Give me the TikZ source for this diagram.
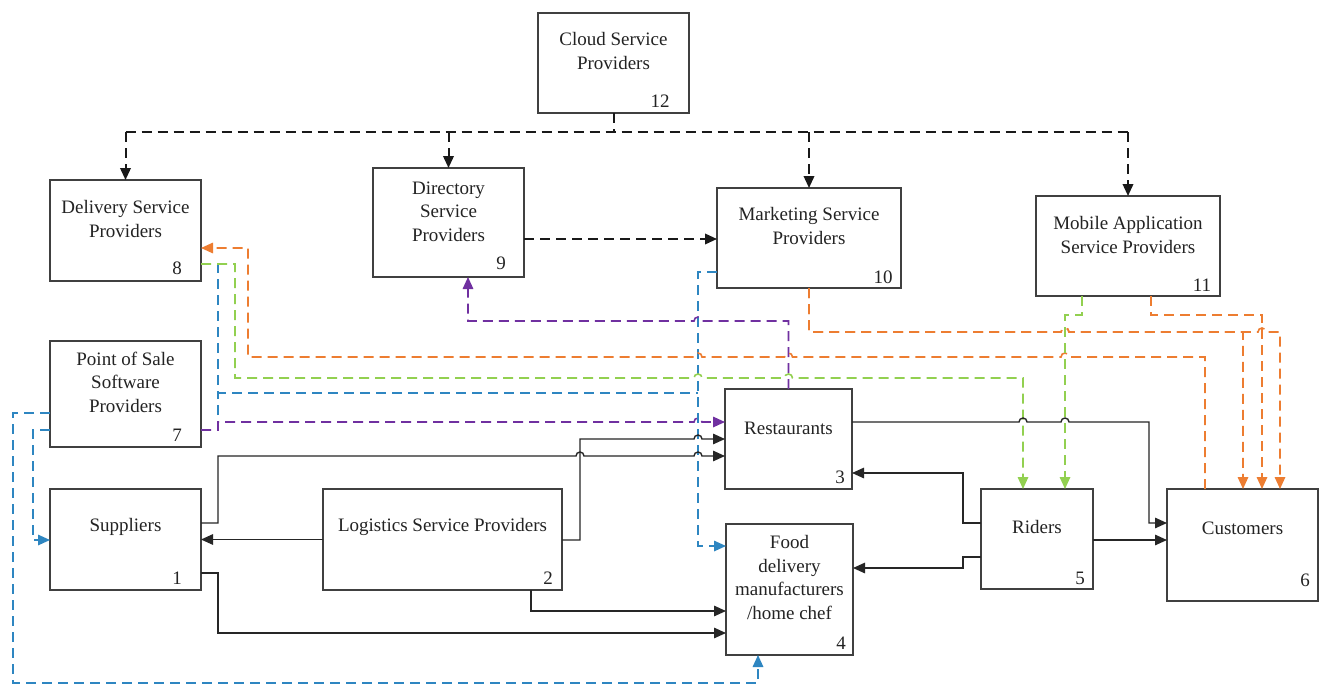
\documentclass[tikz,border=0pt]{standalone}
\usepackage{fontspec}
\setmainfont{Liberation Serif}
\usetikzlibrary{arrows.meta}

\definecolor{boxline}{RGB}{64,64,64}
\definecolor{txt}{RGB}{35,35,35}
\definecolor{ora}{RGB}{237,125,49}
\definecolor{grn}{RGB}{146,208,80}
\definecolor{blu}{RGB}{46,134,193}
\definecolor{pur}{RGB}{112,48,160}

\begin{document}
\begin{tikzpicture}[x=1pt,y=-1pt,
  actor/.style={draw=boxline,line width=1.4pt,rectangle,inner sep=0pt,outer sep=0pt,anchor=north west},
  lbl/.style={font=\fontsize{19}{23.5}\selectfont,align=center,text=txt,inner sep=0pt},
  num/.style={font=\fontsize{19}{23.5}\selectfont,text=txt,inner sep=0pt},
  flow/.style={draw=black!85,line width=1.4pt,-{Triangle[length=12pt,width=10.5pt]}},
  cdash/.style={draw=black!90,line width=2pt,dash pattern=on 10pt off 6pt},
  ctip/.style={-{Triangle[length=12pt,width=10.5pt]}},
  dl/.style={line width=1.6pt,dash pattern=on 10pt off 6pt}]

\fill[white] (0,0) rectangle (1325,688);
\useasboundingbox (0,0) rectangle (1325,688);

% ---------- boxes ----------
\node[actor,minimum width=151pt,minimum height=100pt] (c12) at (538,13) {};
\node[actor,minimum width=151pt,minimum height=101pt] (d8)  at (50,180) {};
\node[actor,minimum width=151pt,minimum height=109pt] (d9)  at (373,168) {};
\node[actor,minimum width=184pt,minimum height=100pt] (m10) at (717,188) {};
\node[actor,minimum width=184pt,minimum height=100pt] (a11) at (1036,196) {};
\node[actor,minimum width=151pt,minimum height=106pt] (p7)  at (50,341) {};
\node[actor,minimum width=151pt,minimum height=101pt] (s1)  at (50,489) {};
\node[actor,minimum width=239pt,minimum height=101pt] (l2)  at (323,489) {};
\node[actor,minimum width=127pt,minimum height=100pt] (r3)  at (725,389) {};
\node[actor,minimum width=127pt,minimum height=131pt] (f4)  at (726,524) {};
\node[actor,minimum width=112pt,minimum height=100pt] (rd5) at (981,489) {};
\node[actor,minimum width=151pt,minimum height=112pt] (cu6) at (1167,489) {};

% ---------- box texts ----------
\node[lbl] (t12) at (613.5,51)  {Cloud Service\\Providers};
\node[lbl] (t8)  at (125.5,219) {Delivery Service\\Providers};
\node[lbl] (t9)  at (448.5,211.5) {Directory\\Service\\Providers};
\node[lbl] (t10) at (809,226)   {Marketing Service\\Providers};
\node[lbl] (t11) at (1128,235)  {Mobile Application\\Service Providers};
\node[lbl] (t7)  at (125.5,382) {Point of Sale\\Software\\Providers};
\node[lbl] (t1)  at (125.5,527) {Suppliers};
\node[lbl] (t2)  at (442.5,527) {Logistics Service Providers};
\node[lbl] (t3)  at (788.5,428) {Restaurants};
\node[lbl] (t4)  at (789.5,577.5) {Food\\delivery\\manufacturers\\/home chef};
\node[lbl] (t5)  at (1037,527)  {Riders};
\node[lbl] (t6)  at (1242.5,528) {Customers};

% ---------- box numbers ----------
\node[num] (n12) at (660,101) {12};
\node[num] (n8)  at (177,268) {8};
\node[num] (n9)  at (501,263) {9};
\node[num] (n10) at (883,277) {10};
\node[num] (n11) at (1202,285) {11};
\node[num] (n7)  at (177,435) {7};
\node[num] (n1)  at (177,578) {1};
\node[num] (n2)  at (548,578) {2};
\node[num] (n3)  at (840,477) {3};
\node[num] (n4)  at (841,643) {4};
\node[num] (n5)  at (1080,578) {5};
\node[num] (n6)  at (1305,580) {6};

% ---------- cloud provider links ----------
\coordinate (hub) at (613.5,132);
\draw[cdash] (c12.south) -- (hub);
\draw[cdash] (d8.north |- hub) -- (a11.north |- hub);
\draw[cdash,ctip] (d8.north |- hub) -- (d8.north);
\draw[cdash,ctip] (d9.north |- hub) -- (d9.north);
\draw[cdash,ctip] (m10.north |- hub) -- (m10.north);
\draw[cdash,ctip] (a11.north |- hub) -- (a11.north);
\draw[cdash,ctip] (d9.east |- 0,239) -- (m10.west |- 0,239);

% ---------- blue links ----------
\coordinate (bj) at (698,393);
\coordinate (pj) at (218,393);
\draw[dl,blu] (p7.east |- 0,430) -- (218,430) -- (pj);
\draw[dl,blu] (d8.east |- 0,264) -- (218,264) -- (pj) -- (bj);
\draw[dl,blu,ctip] (m10.west |- 0,272) -- (698,272) -- (698,546) -- (f4.west |- 0,546);
\draw[dl,blu,ctip] (p7.west |- 0,413) -- (13,413) -- (13,683) -- (758,683) -- (758,0 |- f4.south);
\draw[dl,blu,ctip] (p7.west |- 0,430) -- (33,430) -- (33,540) -- (s1.west |- 0,540);

% ---------- purple links ----------
\draw[dl,pur,ctip] (p7.east |- 0,430) -- (218,430) -- (218,422) -- (694,422)
  arc[start angle=180,end angle=0,radius=4pt] -- (r3.west |- 0,422);
\draw[dl,pur,ctip] (788.5,0 |- r3.north) -- (788.5,321) -- (702,321)
  arc[start angle=0,end angle=180,radius=4pt] -- (468,321) -- (468,0 |- d9.south);

% ---------- orange links ----------
\draw[dl,ora,ctip] (1205,0 |- cu6.north) -- (1205,357) -- (1069,357)
  arc[start angle=0,end angle=180,radius=4pt] -- (792.5,357)
  arc[start angle=0,end angle=180,radius=4pt] -- (702,357)
  arc[start angle=0,end angle=180,radius=4pt] -- (248,357) -- (248,248) -- (d8.east |- 0,248);
\draw[dl,ora,ctip] (m10.south) -- (809,332) -- (1061,332)
  arc[start angle=180,end angle=0,radius=4pt] -- (1243,332) -- (1243,0 |- cu6.north);
\draw[dl,ora,ctip] (m10.south) -- (809,332) -- (1061,332)
  arc[start angle=180,end angle=0,radius=4pt] -- (1258,332)
  arc[start angle=180,end angle=0,radius=4pt] -- (1280,332) -- (1280,0 |- cu6.north);
\draw[dl,ora,ctip] (1151,0 |- a11.south) -- (1151,315) -- (1262,315) -- (1262,0 |- cu6.north);

% ---------- green links ----------
\draw[dl,grn,ctip] (d8.east |- 0,264) -- (235,264) -- (235,378) -- (694,378)
  arc[start angle=180,end angle=0,radius=4pt] -- (784.5,378)
  arc[start angle=180,end angle=0,radius=4pt] -- (1023,378) -- (1023,0 |- rd5.north);
\draw[dl,grn,ctip] (1082,0 |- a11.south) -- (1082,315) -- (1065,315) -- (1065,0 |- rd5.north);

% ---------- material and service flows ----------
\draw[flow] (l2.west) -- (s1.east |- l2.west);
\draw[flow] (s1.east |- 0,523) -- (218,523) -- (218,456) -- (576,456)
  arc[start angle=180,end angle=0,radius=4pt] -- (694,456)
  arc[start angle=180,end angle=0,radius=4pt] -- (r3.west |- 0,456);
\draw[flow] (l2.east |- 0,540) -- (580,540) -- (580,439) -- (694,439)
  arc[start angle=180,end angle=0,radius=4pt] -- (r3.west |- 0,439);
\draw[flow] (s1.east |- 0,573) -- (218,573) -- (218,633) -- (f4.west |- 0,633);
\draw[flow] (531,0 |- l2.south) -- (531,611) -- (f4.west |- 0,611);
\draw[flow] (rd5.west |- 0,523) -- (963,523) -- (963,473) -- (r3.east |- 0,473);
\draw[flow] (rd5.west |- 0,557) -- (963,557) -- (963,568) -- (f4.east |- 0,568);
\draw[flow] (r3.east |- 0,422) -- (1019,422)
  arc[start angle=180,end angle=0,radius=4pt] -- (1061,422)
  arc[start angle=180,end angle=0,radius=4pt] -- (1149,422) -- (1149,523) -- (cu6.west |- 0,523);
\draw[flow] (rd5.east |- 0,540) -- (cu6.west |- 0,540);

\end{tikzpicture}
\end{document}
